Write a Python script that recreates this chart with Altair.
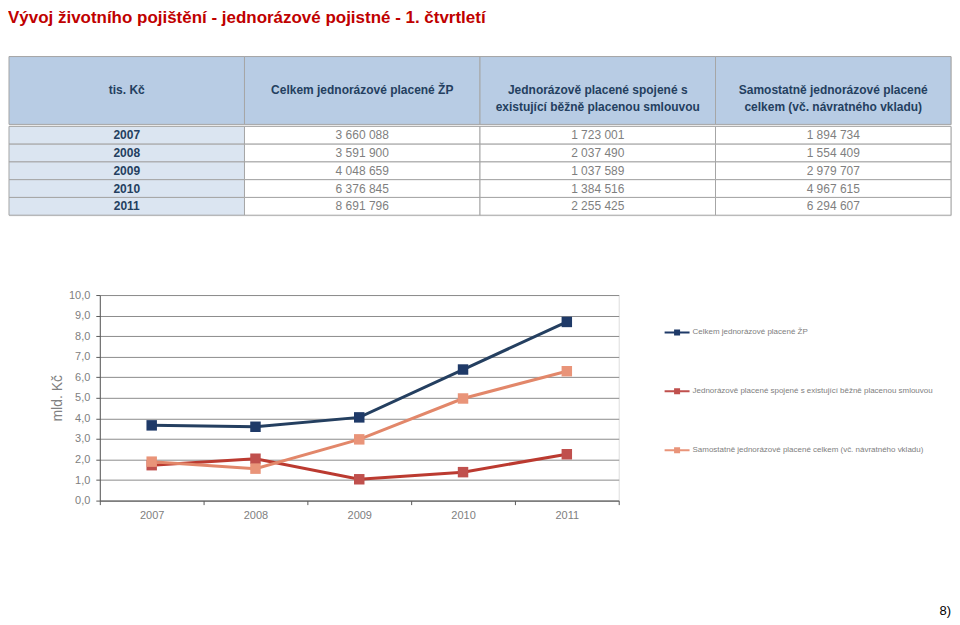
import altair as alt
import pandas as pd

# ---------------- data ----------------
years = ["2007", "2008", "2009", "2010", "2011"]
total = [3660088, 3591900, 4048659, 6376845, 8691796]
linked = [1723001, 2037490, 1037589, 1384516, 2255425]
standalone = [1894734, 1554409, 2979707, 4967615, 6294607]

col_keys = ["c0", "c1", "c2", "c3"]
col_headers = [
    "tis. Kč",
    "Celkem jednorázové placené ŽP",
    "Jednorázově placené spojené s\nexistující běžně placenou smlouvou",
    "Samostatně jednorázové placené\ncelkem (vč. návratného vkladu)",
]
series_names = [
    "Celkem jednorázové placené ŽP",
    "Jednorázově placené spojené s existující běžně placenou smlouvou",
    "Samostatně jednorázové placené celkem (vč. návratného vkladu)",
]
y_ticks = [0, 1, 2, 3, 4, 5, 6, 7, 8, 9, 10]

title_text = "Vývoj životního pojištění - jednorázové pojistné - 1. čtvrtletí"
page_note = "8)"

# ---------------- styles ----------------
FONT = "Liberation Sans"
NAVY_TXT = "#243f60"
GREY_TXT = "#7f7f7f"
HEAD_BG = "#b8cce4"
COL0_BG = "#dbe5f1"
BORDER = "#a6a6a6"
line_colors = ["#243f60", "#bb3a30", "#e2876a"]
point_colors = ["#1f3a68", "#c0504d", "#e99479"]

TABLE_W = 944


def fmt(v):
    return f"{v:,}".replace(",", " ")


# ---------------- table header ----------------
head_df = pd.DataFrame({"col": col_keys, "label": col_headers})
xcol = alt.X("col:N", sort=col_keys, axis=None,
             scale=alt.Scale(paddingInner=0, paddingOuter=0))

header = alt.layer(
    alt.Chart(head_df).mark_rect(fill=HEAD_BG, stroke=BORDER, strokeWidth=1).encode(x=xcol),
    alt.Chart(head_df).mark_text(lineBreak="\n", fontWeight="bold", fontSize=12,
                                 color=NAVY_TXT, lineHeight=17, font=FONT).encode(
        x=xcol, text="label:N"),
).properties(width=TABLE_W, height=68)

# ---------------- table body ----------------
rows = []
for i, y in enumerate(years):
    rows.append({"year": y, "col": "c0", "txt": y})
    rows.append({"year": y, "col": "c1", "txt": fmt(total[i])})
    rows.append({"year": y, "col": "c2", "txt": fmt(linked[i])})
    rows.append({"year": y, "col": "c3", "txt": fmt(standalone[i])})
body_df = pd.DataFrame(rows)
yrow = alt.Y("year:N", sort=years, axis=None,
             scale=alt.Scale(paddingInner=0, paddingOuter=0))

body = alt.layer(
    alt.Chart(body_df).mark_rect(stroke=BORDER, strokeWidth=1).encode(
        x=xcol, y=yrow,
        fill=alt.Fill("col:N", scale=alt.Scale(domain=col_keys,
                                              range=[COL0_BG, "white", "white", "white"]),
                      legend=None)),
    alt.Chart(body_df).transform_filter(alt.datum.col == "c0").mark_text(
        fontWeight="bold", fontSize=12, color=NAVY_TXT, font=FONT).encode(
        x=xcol, y=yrow, text="txt:N"),
    alt.Chart(body_df).transform_filter(alt.datum.col != "c0").mark_text(
        fontSize=12, color=GREY_TXT, font=FONT).encode(
        x=xcol, y=yrow, text="txt:N"),
).properties(width=TABLE_W, height=89)

table = alt.vconcat(header, body, spacing=0)

# ---------------- line chart ----------------
lrows = []
for i, y in enumerate(years):
    lrows.append({"year": y, "series": series_names[0], "v": total[i] / 1e6})
    lrows.append({"year": y, "series": series_names[1], "v": linked[i] / 1e6})
    lrows.append({"year": y, "series": series_names[2], "v": standalone[i] / 1e6})
line_df = pd.DataFrame(lrows)

x_enc = alt.X("year:N", sort=years, bandPosition=0.5, title=None,
              scale=alt.Scale(type="band", paddingInner=0, paddingOuter=0),
              axis=alt.Axis(tickBand="extent", labelAngle=0, labelColor="#808080",
                            labelFontSize=11, labelFont=FONT, domainColor="#595959",
                            tickColor="#595959", tickSize=4, labelPadding=5, grid=False))
y_enc = alt.Y("v:Q", scale=alt.Scale(domain=[0, 10], nice=False),
              axis=alt.Axis(values=y_ticks, title="mld. Kč",
                            labelExpr="replace(format(datum.value, '.1f'), '.', ',')",
                            grid=True, gridColor="#8c8c8c", gridWidth=1,
                            domainColor="#595959", tickColor="#595959", tickSize=4,
                            labelColor="#808080", labelFontSize=11, labelFont=FONT,
                            labelPadding=6, titleFontSize=14, titleColor="#808080",
                            titleFontWeight="normal", titleFont=FONT, titlePadding=4))

lines = alt.Chart(line_df).mark_line(strokeWidth=3).encode(
    x=x_enc, y=y_enc,
    stroke=alt.Stroke("series:N", scale=alt.Scale(domain=series_names, range=line_colors),
                      legend=None),
    order=alt.Order("year:N"),
)

legend_path = "M-1,-0.08H1V0.08H-1Z M-0.24,-0.24H0.24V0.24H-0.24Z"
points = alt.Chart(line_df).mark_point(shape="square", filled=True, size=110, opacity=1).encode(
    x=x_enc, y=y_enc,
    color=alt.Color("series:N", scale=alt.Scale(domain=series_names, range=point_colors),
                    legend=alt.Legend(title=None, orient="none", legendX=656, legendY=24,
                                      symbolType=legend_path, symbolSize=625,
                                      symbolOpacity=1, rowPadding=41, labelOffset=2,
                                      labelFontSize=8, labelColor="#808080",
                                      labelFont=FONT, labelLimit=500)),
)

note = alt.Chart(pd.DataFrame({"t": [page_note]})).mark_text(
    align="right", baseline="middle", fontSize=13, color="black", font=FONT).encode(
    text="t:N", x=alt.value(853), y=alt.value(317))

line_chart = alt.layer(lines, points, note).properties(width=520, height=206)

spacer = alt.Chart(pd.DataFrame({"a": [0]})).mark_point(opacity=0).properties(width=41, height=10)

line_row = alt.hconcat(spacer, line_chart, spacing=0)

chart = alt.vconcat(table, line_row, spacing=72).properties(
    title=alt.TitleParams(title_text, anchor="start", fontSize=17, font=FONT,
                          fontWeight="bold", color="#c00000", offset=29),
    padding={"left": 0, "top": 0, "right": 0, "bottom": 0},
).resolve_scale(x="independent", y="independent", color="independent").configure_view(
    stroke=None
).configure(font=FONT, background="white")

chart.save("out.html", embed_options={"renderer": "svg", "actions": False})
